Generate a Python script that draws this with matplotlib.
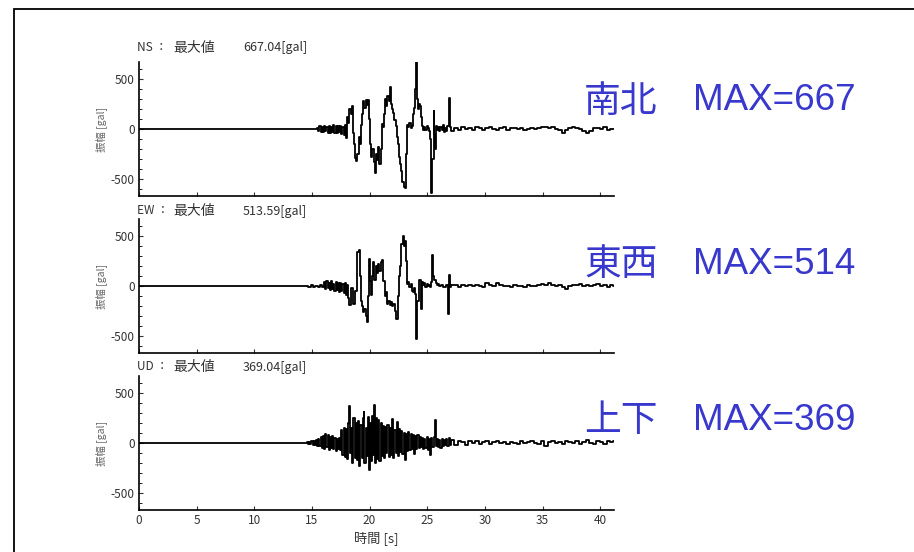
import matplotlib
matplotlib.use("Agg")
import matplotlib.pyplot as plt
from matplotlib.patches import Rectangle
from matplotlib.ticker import MultipleLocator

plt.rcParams['font.family'] = ['Noto Sans CJK JP', 'DejaVu Sans']
plt.rcParams['axes.unicode_minus'] = False

# --- data (time [s], acceleration [gal]) ---
components = ["NS", "EW", "UD"]
peak_text = ["667.04[gal]", "513.59[gal]", "369.04[gal]"]
names = ["南北", "東西", "上下"]
max_labels = ["MAX=667", "MAX=514", "MAX=369"]

ns_pts = [(0, 0), (15.4, 0), (15.5, 15), (15.6, -20), (15.7, 30), (15.8, -25), (15.9, 20), (16.0, -30),
          (16.1, 35), (16.2, -20), (16.3, 25), (16.4, -35), (16.5, 30), (16.6, -40), (16.7, 25), (16.8, -30),
          (16.9, 40), (17.0, -35), (17.1, 30), (17.2, -40), (17.3, 35), (17.4, -30), (17.5, 30), (17.6, -45),
          (17.7, 25), (17.8, -60), (17.9, 40), (18.0, -90), (18.1, 120), (18.2, 60), (18.3, 200), (18.4, 150),
          (18.5, 230), (18.6, -40), (18.7, -150), (18.8, -290), (18.9, -320), (19.0, -250), (19.1, -80),
          (19.2, -150), (19.3, 40), (19.4, 150), (19.5, 280), (19.6, 210), (19.7, 295), (19.8, 240), (19.9, 290),
          (20.0, 100), (20.1, -150), (20.2, -280), (20.3, -200), (20.4, -330), (20.5, -440), (20.6, -250),
          (20.7, -310), (20.8, -180), (20.9, -350), (21.0, -200), (21.1, 50), (21.2, 20), (21.3, 150), (21.4, 300),
          (21.5, 230), (21.6, 330), (21.7, 280), (21.8, 425), (21.9, 250), (22.0, 200), (22.1, 160), (22.2, 90),
          (22.3, 30), (22.4, -80), (22.5, -150), (22.6, -280), (22.7, -350), (22.8, -420), (22.9, -530),
          (23.0, -580), (23.1, -590), (23.2, -250), (23.3, 40), (23.4, 20), (23.5, 60), (23.6, 10), (23.7, 30),
          (23.8, 150), (23.9, 210), (24.0, 400), (24.1, 667), (24.15, 300), (24.2, 200), (24.3, 250), (24.4, 230),
          (24.5, 120), (24.6, 30), (24.7, -10), (24.8, 20), (24.9, -5), (25.0, 30), (25.1, 15), (25.2, -20),
          (25.3, -100), (25.4, -640), (25.5, -300), (25.6, 180), (25.65, -50), (25.7, -200), (25.8, 30),
          (25.9, -10), (26.0, 25), (26.1, -15), (26.2, 20), (26.3, -10), (26.4, 40), (26.5, -25), (26.6, 10),
          (26.7, -20), (26.8, 30), (26.9, 310), (27.0, 20)]

ew_pts = [(0, 0), (14.4, 0), (14.6, 5), (14.8, -5), (15.0, 8), (15.2, -6), (15.4, 5), (15.6, -8), (15.8, 10),
          (16.0, -10), (16.1, 40), (16.2, -30), (16.3, 50), (16.4, -20), (16.5, 30), (16.6, -40), (16.7, 55),
          (16.8, -30), (16.9, 25), (17.0, -50), (17.1, 40), (17.2, -35), (17.3, 30), (17.4, -60), (17.5, 35),
          (17.6, -45), (17.7, 20), (17.8, -70), (17.9, 30), (18.0, -90), (18.1, 10), (18.2, -120), (18.3, -190),
          (18.45, -20), (18.6, -175), (18.8, -50), (19.0, 340), (19.1, 357), (19.2, 100), (19.3, -150),
          (19.4, -200), (19.5, -260), (19.6, -230), (19.75, -300), (19.85, -360), (19.95, -100), (20.0, 273),
          (20.1, 50), (20.2, -90), (20.3, 100), (20.35, 240), (20.45, 60), (20.6, 200), (20.7, 130), (20.8, 220),
          (20.9, 150), (21.0, 240), (21.15, 257), (21.25, 50), (21.35, -100), (21.45, -60), (21.55, -180),
          (21.7, -150), (21.8, -190), (21.9, -160), (22.0, -200), (22.1, -180), (22.25, -250), (22.4, -327),
          (22.5, -100), (22.6, 100), (22.7, 200), (22.8, 420), (22.95, 497), (23.05, 400), (23.1, 450),
          (23.2, 250), (23.3, 20), (23.4, 40), (23.5, -10), (23.6, 20), (23.7, -50), (23.8, -60), (23.9, -20),
          (24.0, -80), (24.1, -527), (24.2, -150), (24.3, 57), (24.4, 60), (24.5, -227), (24.6, 40), (24.7, 10),
          (24.8, 30), (24.9, -5), (25.0, 20), (25.1, 5), (25.2, 15), (25.3, -10), (25.4, 40), (25.46, 307),
          (25.55, 100), (25.65, 60), (25.8, 30), (25.9, 10), (26.0, 20), (26.1, 0), (26.3, 15), (26.5, -5),
          (26.7, 10), (26.85, -277), (26.95, 107), (27.0, -10)]

ud_pts = [(0, 0), (14.5, 0), (14.6, 10), (14.7, -8), (14.8, 15), (14.9, -10), (15.0, 20), (15.1, -15),
          (15.2, 25), (15.3, -20), (15.4, 30), (15.5, -25), (15.6, 40), (15.7, -30), (15.8, 60), (15.9, -50),
          (16.0, 70), (16.1, -60), (16.2, 90), (16.3, -40), (16.4, 80), (16.5, -70), (16.6, 60), (16.7, -50),
          (16.8, 70), (16.9, -60), (17.0, 50), (17.1, -80), (17.2, 40), (17.3, -60), (17.4, 50), (17.5, -70),
          (17.6, 130), (17.7, -120), (17.8, 150), (17.9, -140), (18.0, 140), (18.1, -160), (18.2, 200),
          (18.3, 367), (18.35, -100), (18.45, 150), (18.55, -200), (18.65, 250), (18.75, -150), (18.85, 200),
          (18.95, -170), (19.05, 220), (19.15, -230), (19.25, 180), (19.35, -150), (19.45, 250), (19.5, 310),
          (19.6, -200), (19.7, 150), (19.8, -130), (19.9, 260), (19.96, -273), (20.05, 200), (20.15, -180),
          (20.25, 270), (20.35, -120), (20.4, 383), (20.5, -200), (20.6, 250), (20.7, -160), (20.8, 230),
          (20.9, -180), (21.0, 200), (21.1, -130), (21.2, 170), (21.3, -150), (21.4, 160), (21.5, -100),
          (21.6, 180), (21.7, -140), (21.8, 150), (21.9, -120), (22.0, 243), (22.1, -150), (22.2, 130),
          (22.3, -100), (22.4, 210), (22.5, -130), (22.6, 140), (22.7, -90), (22.8, 120), (22.9, -110),
          (23.0, 100), (23.1, -173), (23.2, 90), (23.3, -80), (23.4, 110), (23.5, -70), (23.6, 90), (23.7, -60),
          (23.8, 80), (23.9, -110), (24.0, 70), (24.1, -60), (24.2, 80), (24.3, -50), (24.4, 60), (24.5, -40),
          (24.6, 50), (24.7, -60), (24.8, 40), (24.9, -50), (25.0, 60), (25.1, -70), (25.2, 40), (25.3, -123),
          (25.4, 50), (25.5, -40), (25.6, 60), (25.7, 227), (25.8, -30), (25.9, 40), (26.0, -40), (26.1, 30),
          (26.2, -50), (26.3, 40), (26.4, -30), (26.5, 30), (26.6, -20), (26.7, 40), (26.8, -30), (26.9, 53),
          (27.0, -20)]

# coda, shared sample times
tail_t = [27.2, 27.5, 27.8, 28.1, 28.4, 28.7, 29.0, 29.3, 29.6, 29.9,
          30.2, 30.5, 30.8, 31.1, 31.4, 31.7, 32.0, 32.3, 32.6, 32.9,
          33.2, 33.5, 33.8, 34.1, 34.4, 34.7, 35.0, 35.3, 35.6, 35.9,
          36.2, 36.5, 36.8, 37.1, 37.4, 37.7, 38.0, 38.3, 38.6, 38.9,
          39.2, 39.5, 39.8, 40.1, 40.4, 40.7, 41.0, 41.2]
ns_tail = [-20, 15, -10, 20, 5, 15, -5, 20, 10, -10,
           15, 25, 5, -10, 10, 20, -5, 10, 15, 0,
           10, -5, 5, 15, 0, 10, 20, 25, 10, 20,
           5, -10, -35, -5, 10, 20, 15, 5, -20, -40,
           -15, 10, 15, 5, 20, -10, 5, 0]
ew_tail = [10, 15, -5, 10, 5, 15, 0, 10, 5, -10,
           30, 10, 5, 30, 10, 0, 5, -5, 10, 0,
           5, -5, 10, 5, 0, 10, 20, 10, 30, 15,
           5, 10, -5, -25, 5, 15, 10, 20, 5, 15,
           0, 10, 20, 5, 15, -5, 10, 5]
ud_tail = [30, -20, 25, 10, -15, 20, 5, 25, -10, 15,
           20, -5, 10, 25, 0, 15, -10, 10, 5, -5,
           20, 0, 15, 25, 5, -10, 20, -30, 10, 25,
           5, 15, -5, 20, 10, 0, 25, -10, 15, 30,
           5, -5, 20, 10, -5, 25, 10, 20]

traces = [(ns_pts, ns_tail), (ew_pts, ew_tail), (ud_pts, ud_tail)]

W, H = 914, 552
fig = plt.figure(figsize=(W / 100, H / 100), dpi=100)


def fx(px):
    return px / W


def fy(py):
    return 1 - py / H


# outer frame (only its top-left corner is inside the picture)
fig.patches.append(Rectangle((fx(14), -0.5), 2, fy(9) + 0.5, transform=fig.transFigure,
                             fill=False, edgecolor="black", lw=1.3))

panels = [(62, 196), (219, 353), (376, 510)]  # top/bottom in px
blue_y = [101, 265, 420]
title_y = [48, 211, 367]
x0, x1 = 139, 614

for i, (top, bottom) in enumerate(panels):
    pts, tail = traces[i]
    t = [p[0] for p in pts] + tail_t
    a = [p[1] for p in pts] + tail
    ax = fig.add_axes([fx(x0), fy(bottom), (x1 - x0) / W, (bottom - top) / H])
    ax.plot(t, a, color="black", lw=1.3, drawstyle="steps-mid")
    ax.set_xlim(0, 41.2)
    ax.set_ylim(-670, 670)
    for s in ("top", "right"):
        ax.spines[s].set_visible(False)
    for s in ("left", "bottom"):
        ax.spines[s].set_linewidth(1.2)
    ax.xaxis.set_major_locator(MultipleLocator(5))
    ax.yaxis.set_major_locator(MultipleLocator(500))
    ax.yaxis.set_minor_locator(MultipleLocator(100))
    ax.tick_params(which="major", direction="in", length=3, width=0.8, labelsize=8.5,
                   colors="#333333", pad=3)
    ax.tick_params(which="minor", direction="in", length=2, width=0.6)
    if i < 2:
        ax.tick_params(labelbottom=False)
    else:
        ax.set_xlabel("時間 [s]", fontsize=9.5, color="#333333", labelpad=3)
    ax.set_ylabel("振幅 [gal]", fontsize=7.5, color="#666666")
    ax.yaxis.set_label_coords(-0.067, 0.5)

    fig.text(fx(137), fy(title_y[i]), components[i] + " ：", fontsize=8.5, va="center", color="#333333")
    fig.text(fx(173), fy(title_y[i]), "最大値", fontsize=10, va="center", color="#333333")
    fig.text(fx(243), fy(title_y[i]), peak_text[i], fontsize=9, va="center", color="#333333")

    fig.text(fx(584), fy(blue_y[i]), names[i], fontsize=26.5, va="center", color="#3838cc")
    fig.text(fx(693), fy(blue_y[i]), max_labels[i], fontsize=26.5, va="center", color="#3838cc",
             family="Liberation Sans")

fig.savefig("out.png", dpi=100)
plt.close(fig)
